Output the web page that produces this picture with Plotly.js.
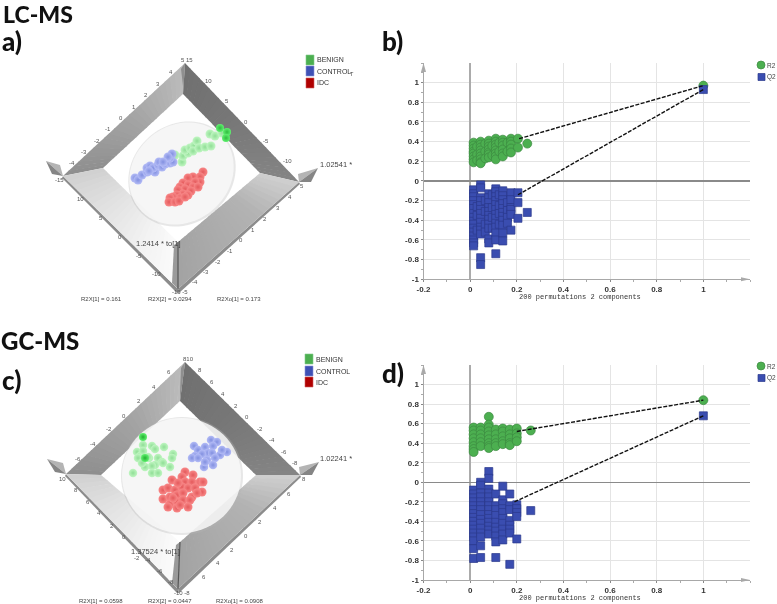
<!DOCTYPE html>
<html><head><meta charset="utf-8">
<script src="https://cdn.plot.ly/plotly-3.0.1.min.js"></script>
<style>html,body{margin:0;padding:0;background:#fff}#plot{width:777px;height:604px;filter:blur(.3px)}</style>
</head><body><div id="plot"></div>
<script>
// ---- permutation plot b (LC-MS)
const xColsB = [0.015,0.03,0.045,0.065,0.08,0.095,0.11,0.125,0.14,0.16,0.175,0.205,0.245];
const r2B = [[.39,.36,.33,.30,.28,.25,.22,.19],[.35,.27,.21],[.40,.37,.34,.31,.28,.25,.22,.19,.18],[.38,.30,.23],[.41,.38,.35,.32,.29,.27,.24],[.36,.26],[.43,.40,.37,.34,.31,.28,.25,.22],[.39,.30],[.42,.39,.36,.32,.28,.25],[.39,.3],[.43,.40,.37,.33,.29],[.43,.34],[.38]];
const q2B = [[-.09,-.13,-.16,-.2,-.24,-.28,-.33,-.37,-.41,-.44,-.48,-.52,-.56,-.6,-.63,-.66],[-.26,-.35,-.5],[-.04,-.07,-.17,-.2,-.25,-.29,-.33,-.38,-.42,-.47,-.5,-.54,-.78,-.85],[-.2,-.31,-.44,-.52],[-.13,-.17,-.22,-.27,-.31,-.35,-.39,-.44,-.48,-.59,-.63],[-.14,-.27,-.37,-.48],[-.08,-.11,-.16,-.2,-.24,-.29,-.34,-.38,-.43,-.47,-.53,-.6,-.74],[-.14,-.25,-.33,-.44],[-.1,-.15,-.19,-.23,-.28,-.32,-.36,-.4,-.45,-.53,-.61],[-.22,-.3,-.37,-.43],[-.12,-.19,-.27,-.29,-.34,-.5],[-.12,-.22,-.38],[-.32]];
const finalB = {r2:0.97,q2:0.93};
const fitB = {r2:[[0.21,0.43],[1,0.97]], q2:[[0.205,-0.14],[1,0.93]]};
// ---- permutation plot d (GC-MS)
const xColsD = [0.015,0.045,0.08,0.11,0.14,0.17,0.2,0.26];
const r2D = [[.56,.53,.49,.45,.41,.37,.34,.31],[.56,.53,.49,.45,.41,.37],[.67,.59,.56,.52,.48,.44,.4,.37,.35],[.54,.49,.44,.4,.37],[.55,.52,.47,.42,.39],[.54,.49,.45,.4,.38],[.55,.5,.46,.42],[.53]];
const q2D = [[-.08,-.12,-.16,-.2,-.24,-.28,-.32,-.36,-.4,-.44,-.48,-.52,-.56,-.6,-.68,-.78],[0,-.03,-.11,-.15,-.2,-.24,-.28,-.33,-.38,-.42,-.47,-.52,-.56,-.65,-.77],[.11,.04,-.07,-.11,-.15,-.2,-.24,-.28,-.33,-.37,-.41,-.45,-.49,-.53],[-.12,-.24,-.28,-.34,-.41,-.46,-.5,-.55,-.61,-.77],[-.04,-.18,-.22,-.27,-.31,-.37,-.42,-.48,-.53,-.59],[-.12,-.24,-.28,-.39,-.44,-.48,-.52,-.84],[-.23,-.27,-.31,-.35,-.58],[-.29]];
const finalD = {r2:0.84,q2:0.68};
const fitD = {r2:[[0.2,0.52],[1,0.84]], q2:[[0.19,-0.2],[1,0.68]]};
const tickValsX = [-0.2,0,0.2,0.4,0.6,0.8,1];
const tickTextX = ['-0.2','0','0.2','0.4','0.6','0.8','1'];
const tickValsY = [-1,-0.8,-0.6,-0.4,-0.2,0,0.2,0.4,0.6,0.8,1];
const tickTextY = ['-1','-0.8','-0.6','-0.4','-0.2','0','0.2','0.4','0.6','0.8','1'];
// ---- score plot a: projected positions of the observations
const aIdcX = [203,200,193,200,195,188,183,188,193,198,180,185,191,178,183,188,177,180,173,170,169,175,179,185];
const aIdcY = [172,177,177,182,182,178,183,185,187,187,187,189,191,190,194,195,195,198,197,198,202,202,201,197];
const aCtlX = [135,138,142,147,147,150,152,155,153,158,159,162,165,170,173,170,172,168,163,149];
const aCtlY = [178,180,175,172,168,166,170,172,168,165,162,167,164,163,162,158,154,157,162,171];
const aBenX = [175,182,183,188,185,190,194,193,197,199,205,211,210,215,222];
const aBenY = [155,162,156,153,150,148,146,151,141,148,147,146,134,136,133];
const aOutX = [220,227,226];
const aOutY = [128,132,138];
// ---- score plot c
const cIdcX = [185,193,182,172,185,192,200,203,163,168,175,182,188,195,202,163,170,177,183,192,197,170,177,183,190,168,177,188,178,173,180];
const cIdcY = [472,475,477,480,482,482,482,482,490,488,490,487,488,488,492,499,497,495,493,497,493,504,502,500,500,507,508,507,483,498,505];
const cCtlX = [194,211,217,198,205,213,227,208,202,195,212,220,192,198,207,215,213,204,222,205];
const cCtlY = [446,440,442,450,447,446,452,453,454,456,453,455,458,458,460,458,465,467,450,462];
const cBenX = [143,152,155,164,137,140,138,143,149,173,172,158,162,155,152,145,142,170,133,152,158,148,163];
const cBenY = [445,446,449,447,452,456,458,451,458,454,458,458,462,465,466,467,463,467,473,473,473,457,463];
const cOutX = [143,145];
const cOutY = [437,458];
const groupNames = ['BENIGN','CONTROL','IDC'];
// ---- text
const wallTicksA = [['-4',72,163],['-3',84,152],['-2',97,141],['-1',108,129],['0',121,118],['1',134,107],['2',146,95],['3',158,84],['4',171,72],['5 15',187,60],
 ['10',209,81],['5',227,101],['0',246,122],['-5',266,141],['-10',287,161],
 ['5',302,186],['4',290,197],['3',278,208],['2',265,219],['1',253,230],['0',241,240],['-1',230,251],['-2',218,262],['-3',206,272],['-4',195,282],['-15 -5',180,292],
 ['-15',59,180],['10',80,199],['5',101,218],['0',120,237],['-5',139,256],['-10',156,274]];
const wallTicksC = [['-6',78,459],['-4',93,444],['-2',109,429],['0',124,416],['2',139,401],['4',154,387],['6',169,372],['810',188,359],
 ['8',200,370],['6',212,382],['4',223,394],['2',236,406],['0',247,417],['-2',260,429],['-4',272,440],['-6',284,452],['-8',295,463],
 ['8',304,479],['6',289,494],['4',275,508],['2',260,522],['0',246,536],['2',232,550],['4',218,563],['6',204,577],['-10 -8',182,593],
 ['10',62,479],['8',76,490],['6',88,502],['4',99,513],['2',112,526],['0',124,537],['-2',137,558],['-4',148,560],['-6',160,571],['-8',171,582]];

const X = x => x/777, Y = y => 1-y/604;
const fig = {data:[], shapes:[], annotations:[]};
function txt(t,x,y,size,o={}){fig.annotations.push(Object.assign({text:t,x:X(x),y:Y(y),xref:'paper',yref:'paper',showarrow:false,xanchor:'center',yanchor:'middle',borderpad:0,font:{family:'Arial, Liberation Sans',size,color:'#444'}},o));}
function poly(pts,fill,line){fig.shapes.push({type:'path',xref:'paper',yref:'paper',layer:'below',path:'M'+pts.map(p=>X(p[0])+','+Y(p[1])).join('L')+'Z',fillcolor:fill,line:line||{width:0}});}
function lerp(a,b,t){return [a[0]+(b[0]-a[0])*t,a[1]+(b[1]-a[1])*t];}
function mix(c1,c2,t){return 'rgb('+c1.map((v,i)=>Math.round(v+(c2[i]-v)*t)).join(',')+')';}
const g=v=>[v,v,v];
function wall(a,b,c,d,stops,n=24){ // a-b outer edge, d-c inner edge, colours vary along a->b
 for(let i=0;i<n;i++){const t0=i/n,t1=(i+1.15)/n>1?1:(i+1.15)/n,s=(i+.5)/n*(stops.length-1),k=Math.min(Math.floor(s),stops.length-2);
  poly([lerp(a,b,t0),lerp(a,b,t1),lerp(d,c,t1),lerp(d,c,t0)],mix(stops[k],stops[k+1],s-k));}
}
function frame(o,inn,tipL,tipR){
 const [T,R,B,L]=o,[iT,iR,iB,iL]=inn;
 // rims along the two lower outer edges
 poly([[L[0]-1,L[1]+2],[B[0]-1,B[1]+4],[B[0]+1,B[1]+4],[B[0],B[1]],L],'#8c8c8c');
 poly([[R[0]+1,R[1]+2],[B[0]+1,B[1]+4],[B[0],B[1]],R],'#8c8c8c');
 wall(L,T,iT,iL,[g(142),g(162),g(188)]);
 wall(T,R,iR,iT,[g(112),g(120),g(132)]);
 wall(R,B,iB,iR,[g(208),g(178),g(170),g(162)]);
 wall(L,B,iB,iL,[g(208),g(226),g(242),g(252)]);
 // inner folds at the top and bottom corners
 poly([T,iT,[iT[0]+0,iT[1]-8],[T[0]-4,T[1]+6]],'#8f8f8f');
 poly([iB,B,[B[0]-6,B[1]-6],[iB[0]-4,iB[1]+3]],'#9a9a9a');
 fig.shapes.push({type:'line',xref:'paper',yref:'paper',layer:'below',x0:X(iB[0]),y0:Y(iB[1]),x1:X(B[0]),y1:Y(B[1]),line:{color:'#555',width:1.2}});
 // axis arrow heads
 poly([L,tipL,[L[0]-3,L[1]-11]],'#b4b4b4');
 poly([L,tipL,[L[0]-11,L[1]-2]],'#858585');
 poly([R,tipR,[R[0]-1,R[1]-8]],'#b4b4b4');
 poly([R,tipR,[R[0]+12,R[1]+0]],'#858585');
}
function blob(cx,cy,a,b,deg,fill,line){
 const th=deg*Math.PI/180,pts=[];
 for(let i=0;i<72;i++){const u=i/72*2*Math.PI,px=a*Math.cos(u),py=b*Math.sin(u);pts.push([cx+px*Math.cos(th)-py*Math.sin(th),cy+px*Math.sin(th)+py*Math.cos(th)]);}
 poly(pts,fill,line);
}
function spheres(xs,ys,c,edge,ax,name,size){
 fig.data.push({type:'scatter',mode:'markers',x:xs,y:ys,xaxis:'x'+ax,yaxis:'y'+ax,name,showlegend:false,hoverinfo:'skip',
  marker:{size,color:c,gradient:{type:'radial',color:edge},line:{width:0}}});
}
function key3d(x,ys,labels){
 const cols=[['#4CAF50','#7fc98a'],['#3F51B5','#8c96d8'],['#B00000','#d06060']];
 ys.forEach((y,i)=>{poly([[x-4,y-5],[x+4,y-5],[x+4,y+5],[x-4,y+5]],cols[i][0],{color:cols[i][1],width:.6});
  txt(labels[i],x+6,y,7,{xanchor:'left',font:{family:'Arial, Liberation Sans',size:7,color:'#333'}});});
}
function permutation(ax,cols,r2,q2,fin,fit){
 const gx=[],gy=[],bx=[],by=[];
 cols.forEach((c,i)=>{r2[i].forEach(v=>{gx.push(c);gy.push(v);});q2[i].forEach(v=>{bx.push(c);by.push(v);});});
 gx.push(1);gy.push(fin.r2);bx.push(1);by.push(fin.q2);
 const xa='x'+ax,ya='y'+ax;
 fig.data.push({type:'scatter',mode:'markers',x:gx,y:gy,xaxis:xa,yaxis:ya,name:'R2',showlegend:false,marker:{symbol:'circle',size:9,color:'#4CAF50',line:{color:'#3c8a40',width:.7}}});
 fig.data.push({type:'scatter',mode:'markers',x:bx,y:by,xaxis:xa,yaxis:ya,name:'Q2',showlegend:false,marker:{symbol:'square',size:8,color:'#3A4DB0',line:{color:'#2b3a8c',width:.7}}});
 [fit.r2,fit.q2].forEach(f=>fig.data.push({type:'scatter',mode:'lines',x:f.map(p=>p[0]),y:f.map(p=>p[1]),xaxis:xa,yaxis:ya,showlegend:false,hoverinfo:'skip',line:{color:'#111',width:1.4,dash:'4px,1.5px'}}));
}
function permAxis(dom,anchor,isX){
 return {domain:dom,anchor,range:isX?[-0.2,1.2]:[-1,1.2],tickmode:'array',tickvals:isX?tickValsX:tickValsY,ticktext:isX?tickTextX:tickTextY,
  showgrid:true,gridcolor:'#e4e4e4',gridwidth:1,zeroline:true,zerolinecolor:isX?'#ababab':'#8a8a8a',zerolinewidth:isX?2.5:1.5,
  showline:true,linecolor:'#a8a8a8',linewidth:1,ticks:'outside',ticklen:2,tickcolor:'#888',
  minor:{dtick:0.1,ticks:'outside',ticklen:2,tickcolor:'#aaa',showgrid:false},
  tickfont:{family:'Arial, Liberation Sans',size:8,color:'#333',weight:'bold'},fixedrange:true};
}
function permKey(y1,y2){
 fig.shapes.push({type:'circle',xref:'paper',yref:'paper',x0:X(757),x1:X(765),y0:Y(y1-4),y1:Y(y1+4),fillcolor:'#4CAF50',line:{color:'#3c8a40',width:.7}});
 fig.shapes.push({type:'rect',xref:'paper',yref:'paper',x0:X(758),x1:X(765),y0:Y(y2-3.5),y1:Y(y2+3.5),fillcolor:'#3A4DB0',line:{color:'#2b3a8c',width:.7}});
 txt('R2',766,y1,6.5,{xanchor:'left'});txt('Q2',766,y2,6.5,{xanchor:'left'});
}
function axisArrows(x0,x1,yBottom,yTop){
 poly([[x1,yBottom],[x1-9,yBottom-2],[x1-9,yBottom+2]],'#aaa');
 poly([[x0,yTop],[x0-2.5,yTop+9],[x0+2.5,yTop+9]],'#aaa');
}

// panel a
frame([[185,63],[299,182],[178,289],[63,176]],[[183,94],[260,173],[178,242],[103,168]],[46,161],[318,168]);
blob(182,174,56.5,49.5,-40,'rgba(180,180,180,.32)');
blob(181.5,173.5,55,48,-40,'rgba(248,248,248,.85)');
spheres(aIdcX,aIdcY,'#f88888','#e45a5c',3,'IDC',9);
spheres(aBenX,aBenY,'#c0f6c2','#90de96',3,'BENIGN',9);
spheres(aCtlX,aCtlY,'#b4bcf6','#8290e0',3,'CONTROL',9);
spheres(aOutX,aOutY,'#60f070','#30bc40',3,'BENIGN',8);
key3d(310,[60,71,83],['BENIGN','CONTROL','IDC']);
txt('T',352,74,5.5);
wallTicksA.forEach(t=>txt(t[0],t[1],t[2],6,{font:{family:'Arial, Liberation Sans',size:6,color:'#555'}}));
txt('1.02541 *',336,164,7.5);txt('1.2414 * to[1]',158,243,7.5);
txt('R2X[1] = 0.161',101,299,6);txt('R2X[2] = 0.0294',170,299,6);txt('R2Xo[1] = 0.173',239,299,6);
// panel c
frame([[185,362],[300,475],[178,589],[66,474]],[[180,401],[256,475],[180,542],[101,475]],[47,459],[319,462]);
blob(182,476,61,59,0,'rgba(180,180,180,.32)');
blob(181.5,475.5,59.5,57.5,0,'rgba(248,248,248,.85)');
spheres(cIdcX,cIdcY,'#f88888','#e45a5c',4,'IDC',9);
spheres(cBenX,cBenY,'#c0f6c2','#90de96',4,'BENIGN',8.5);
spheres(cCtlX,cCtlY,'#b4bcf6','#8290e0',4,'CONTROL',8.5);
spheres(cOutX,cOutY,'#60f070','#22b030',4,'BENIGN',8);
key3d(309,[359,371,382],groupNames);
wallTicksC.forEach(t=>txt(t[0],t[1],t[2],6,{font:{family:'Arial, Liberation Sans',size:6,color:'#555'}}));
txt('1.02241 *',336,458,7.5);txt('1.37524 * to[1]',155,551,7.5);
txt('R2X[1] = 0.0598',101,601,6);txt('R2X[2] = 0.0447',170,601,6);txt('R2Xo[1] = 0.0908',240,601,6);
// panels b, d
permutation(1,xColsB,r2B,q2B,finalB,fitB);
permutation(2,xColsD,r2D,q2D,finalD,fitD);
permKey(65,77);permKey(366,378);
axisArrows(423.5,750,279.3,63);axisArrows(423.5,750,580,365);
const mono={family:'Liberation Mono, DejaVu Sans Mono',size:7,color:'#333'};
txt('200 permutations 2 components',580,297,7,{font:mono});
txt('200 permutations 2 components',580,598,7,{font:mono});
// headings
const head=(t,x,y,size)=>txt(t,x,y,size,{xanchor:'left',font:{family:'Lato, Open Sans',size,color:'#111',weight:900}});
head('LC-MS',2,14,23);head('a)',1,41,26);head('b)',381,41,26);
head('GC-MS',0,340,24);head('c)',1,380,26);head('d)',381,373,26);

const hidden=(dom,anchor,range)=>({domain:dom,anchor,range,visible:false,fixedrange:true});
const layout={width:777,height:604,margin:{l:0,r:0,t:0,b:0},paper_bgcolor:'#fff',plot_bgcolor:'rgba(0,0,0,0)',showlegend:false,
 xaxis:permAxis([423.5/777,750/777],'y',true),yaxis:permAxis([1-279.3/604,1-63/604],'x',false),
 xaxis2:permAxis([423.5/777,750/777],'y2',true),yaxis2:permAxis([1-580/604,1-365/604],'x2',false),
 xaxis3:hidden([0,390/777],'y3',[0,390]),yaxis3:hidden([1-315/604,1],'x3',[315,0]),
 xaxis4:hidden([0,390/777],'y4',[0,390]),yaxis4:hidden([0,1-315/604],'x4',[604,315]),
 shapes:fig.shapes,annotations:fig.annotations};
Plotly.newPlot('plot',fig.data,layout,{displayModeBar:false,staticPlot:true});
</script></body></html>
